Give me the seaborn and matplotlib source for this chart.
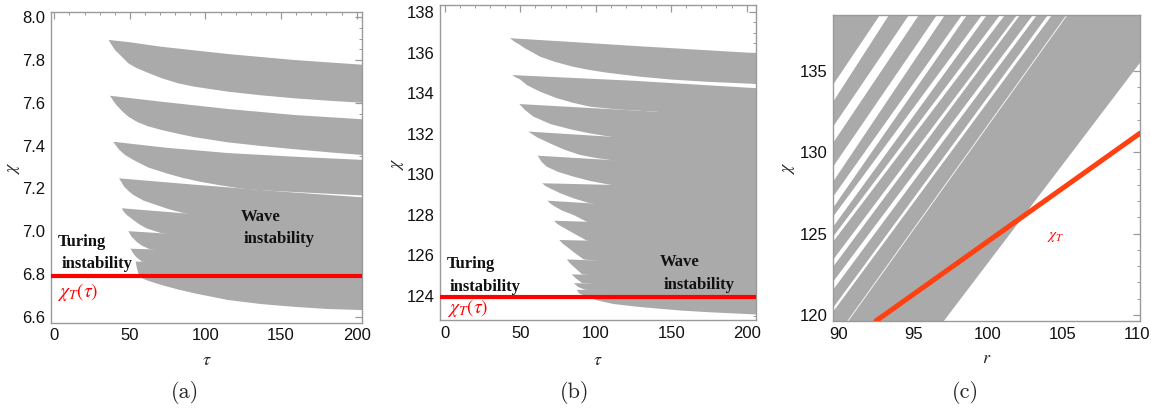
import matplotlib
matplotlib.use("Agg")
import matplotlib.pyplot as plt
from matplotlib.ticker import MultipleLocator, FormatStrFormatter
import seaborn as sns

# ── colours ────────────────────────────────────────────────────────────────
GRAY = "#aaaaaa"
FRAME = "#9a9a9a"
RED = "#ff0000"
RED_C = "#ff4010"

# ── panel (a): tongues, (tau, chi) points of top and bottom edge ───────────
A_TOP = [
    [(35.9, 7.894), (49, 7.884), (71, 7.862), (93, 7.845), (115, 7.828), (159, 7.800), (204, 7.778)],
    [(36.8, 7.633), (71, 7.605), (115, 7.571), (159, 7.543), (204, 7.523)],
    [(39.0, 7.418), (74, 7.390), (115, 7.365), (159, 7.348), (204, 7.333)],
    [(42.8, 7.247), (89.7, 7.219), (127, 7.198), (150, 7.185), (204, 7.158)],
    [(44.6, 7.107), (86.4, 7.083), (204, 7.020)],
    [(49.0, 7.000), (71, 6.990), (204, 6.930)],
    [(50.4, 6.918), (63.3, 6.915), (204, 6.880)],
    [(53.8, 6.858), (58, 6.857), (204, 6.820)],
]
A_BOT = [
    [(35.9, 7.894), (38, 7.870), (40.1, 7.847), (44.6, 7.816), (48.9, 7.785), (54, 7.764), (60, 7.746),
     (71, 7.715), (82, 7.691), (93, 7.675), (115, 7.652), (137, 7.635), (159, 7.621), (181, 7.610), (204, 7.600)],
    [(36.8, 7.633), (39, 7.610), (41, 7.590), (45, 7.560), (49, 7.535), (55, 7.510), (62, 7.490),
     (71, 7.473), (82, 7.455), (93, 7.439), (115, 7.415), (137, 7.398), (159, 7.383), (181, 7.369), (204, 7.356)],
    [(39.0, 7.418), (41, 7.398), (43, 7.380), (47, 7.355), (52.3, 7.333), (62, 7.298), (74.3, 7.270),
     (85, 7.249), (96.4, 7.231), (110, 7.214), (127, 7.196), (150, 7.186), (204, 7.167)],
    [(42.8, 7.247), (44.5, 7.228), (46, 7.210), (49, 7.188), (52.3, 7.169), (59, 7.143), (67.7, 7.122),
     (76, 7.102), (86.4, 7.083), (204, 6.950)],
    [(44.6, 7.107), (46, 7.090), (48, 7.075), (52.3, 7.052), (56, 7.033), (61, 7.013), (71, 6.990), (204, 6.850)],
    [(49.0, 7.000), (51, 6.975), (54.5, 6.950), (58, 6.932), (63.3, 6.915), (204, 6.800)],
    [(50.4, 6.918), (52, 6.898), (54, 6.880), (58, 6.857), (204, 6.750)],
    [(53.8, 6.858), (54.6, 6.828), (55.6, 6.803), (56.7, 6.784), (62, 6.768), (71, 6.748), (82, 6.727),
     (93, 6.709), (115, 6.678), (137, 6.659), (159, 6.646), (181, 6.636), (204, 6.631)],
]
A_CHI_T = 6.79

# ── panel (b) ──────────────────────────────────────────────────────────────
B_TOP = [
    [(43.1, 136.72), (85, 136.53), (125, 136.34), (207, 135.98)],
    [(44.6, 134.90), (125, 134.62), (207, 134.25)],
    [(49.3, 133.47), (109.4, 133.22), (140.4, 133.09), (207, 132.80)],
    [(55.3, 132.11), (109.4, 131.86), (207, 131.50)],
    [(61.5, 130.92), (109.4, 130.71), (207, 130.30)],
    [(64.5, 129.56), (110, 129.48), (207, 129.20)],
    [(68.0, 128.70), (96, 128.57), (207, 128.20)],
    [(72.3, 127.71), (94, 127.66), (207, 127.30)],
    [(75.8, 126.76), (94, 126.73), (207, 126.40)],
    [(80.9, 125.80), (92, 125.77), (207, 125.50)],
    [(84.0, 125.06), (91, 125.05), (207, 124.80)],
    [(85.5, 124.63), (91, 124.62), (207, 124.40)],
    [(87.3, 124.30), (207, 124.20)],
]
B_BOT = [
    [(43.1, 136.72), (46, 136.55), (49.7, 136.39), (53, 136.22), (58, 136.02), (63, 135.81), (73, 135.55),
     (85.1, 135.31), (96, 135.15), (107.2, 135.02), (129.3, 134.82), (150, 134.68), (173.5, 134.57), (207, 134.46)],
    [(44.6, 134.90), (47, 134.78), (49.7, 134.69), (54.2, 134.41), (63, 134.08), (74.1, 133.76), (85, 133.53),
     (96.2, 133.34), (115, 133.20), (140.4, 133.09), (207, 132.30)],
    [(49.3, 133.47), (53, 133.18), (58.6, 132.85), (70, 132.48), (85.1, 132.19), (97, 132.01), (109.4, 131.86),
     (207, 130.80)],
    [(55.3, 132.11), (61, 131.83), (69.6, 131.53), (79, 131.22), (89.5, 130.96), (99, 130.82), (109.4, 130.71),
     (207, 129.50)],
    [(61.5, 130.92), (64, 130.62), (67.4, 130.38), (75, 130.12), (85.1, 129.89), (97, 129.66), (110, 129.48),
     (207, 128.50)],
    [(64.5, 129.56), (66.5, 129.43), (69.6, 129.31), (77, 129.05), (85.1, 128.82), (96, 128.57), (207, 127.50)],
    [(68.0, 128.70), (70, 128.55), (72.9, 128.41), (78, 128.20), (85.1, 128.00), (94, 127.66), (207, 126.50)],
    [(72.3, 127.71), (74.5, 127.55), (77.4, 127.42), (85, 127.10), (94, 126.73), (207, 125.50)],
    [(75.8, 126.76), (78, 126.58), (80.7, 126.43), (86, 126.12), (92, 125.80), (207, 124.80)],
    [(80.9, 125.80), (82.3, 125.66), (84, 125.53), (91, 125.06), (207, 124.30)],
    [(84.0, 125.06), (87, 124.85), (91, 124.63), (207, 124.00)],
    [(85.5, 124.63), (88, 124.45), (93, 124.30), (207, 123.80)],
    [(87.3, 124.30), (89, 124.12), (94, 123.96), (102, 123.76), (111.6, 123.60), (129.3, 123.45),
     (155.8, 123.28), (173.5, 123.20), (207, 123.08)],
]
B_CHI_T = 123.95

# ── panel (c): straight stripes in the (r, chi) plane ──────────────────────
C_EDGE_R = [96.98, 110.2]          # right edge of the gray band
C_EDGE_CHI = [119.63, 135.57]
C_GAP_CHI_HI = [136.10, 134.14, 131.56, 129.10, 127.26, 126.03, 124.80, 123.38, 122.03, 120.43]
C_GAP_CHI_LO = [140.00, 133.09, 130.57, 128.18, 126.58, 125.41, 124.49, 122.95, 121.54, 120.19]
C_GAP_R_LO = [88.00, 92.75, 94.70, 96.58, 98.26, 99.60, 100.81, 101.95, 103.02, 104.03]
C_GAP_R_HI = [91.28, 93.36, 95.37, 97.11, 98.59, 99.93, 101.14, 102.15, 103.29, 104.30]
C_THIN_R = [90.6, 105.3]
C_THIN_CHI = [119.63, 138.44]
C_RED_R = [92.48, 110.2]
C_RED_CHI = [119.63, 131.17]

XLIM = [(-2.2, 203.3), (-3.3, 206.2), (89.6, 110.2)]
YLIM = [(6.572, 8.026), (122.81, 138.36), (119.63, 138.44)]

sns.set_theme(style="white")
plt.rcParams.update({
    "font.family": ["Liberation Sans", "DejaVu Sans"],
    "mathtext.fontset": "stix",
    "axes.edgecolor": FRAME,
    "axes.linewidth": 1.0,
})

fig = plt.figure(figsize=(11.51, 4.09), dpi=100)
axes = [
    fig.add_axes([0.0443, 0.211, 0.2699, 0.7604]),
    fig.add_axes([0.3823, 0.2176, 0.2745, 0.7702]),
    fig.add_axes([0.7237, 0.2152, 0.2667, 0.7482]),
]


def draw_tongues(ax, tops, bots):
    for top, bot in zip(tops, bots):
        pts = top + bot[::-1]
        ax.fill([p[0] for p in pts], [p[1] for p in pts], color=GRAY, lw=0, zorder=1)


def style_axes(ax, xmaj, xmin, ymaj, ymin, xlim, ylim):
    ax.set_xlim(*xlim)
    ax.set_ylim(*ylim)
    ax.xaxis.set_major_locator(MultipleLocator(xmaj))
    ax.xaxis.set_minor_locator(MultipleLocator(xmin))
    ax.yaxis.set_major_locator(MultipleLocator(ymaj))
    ax.yaxis.set_minor_locator(MultipleLocator(ymin))
    ax.tick_params(which="both", direction="in", top=True, right=True, color=FRAME,
                   labelsize=12, labelcolor="#111111", pad=4)
    ax.tick_params(which="major", length=5, width=0.9)
    ax.tick_params(which="minor", length=2.5, width=0.7)
    for s in ax.spines.values():
        s.set_visible(True)
        s.set_color(FRAME)


serif_bold = dict(family="Liberation Serif", fontweight="bold", fontsize=12, color="#111111")

# (a)
ax = axes[0]
draw_tongues(ax, A_TOP, A_BOT)
ax.axhline(A_CHI_T, color=RED, lw=3, zorder=3)
style_axes(ax, 50, 10, 0.2, 0.05, XLIM[0], YLIM[0])
ax.yaxis.set_major_formatter(FormatStrFormatter("%.1f"))
ax.text(2.5, 6.95, "Turing", va="center", ha="left", **serif_bold)
ax.text(4.9, 6.845, "instability", va="center", ha="left", zorder=4,
        bbox=dict(facecolor="white", edgecolor="none", pad=0.5), **serif_bold)
ax.text(123.3, 7.067, "Wave", va="center", ha="left", **serif_bold)
ax.text(125.5, 6.963, "instability", va="center", ha="left", **serif_bold)
ax.text(1.6, 6.716, r"$\chi_{T}(\tau)$", color=RED, fontsize=14, va="center", ha="left")

# (b)
ax = axes[1]
draw_tongues(ax, B_TOP, B_BOT)
ax.axhline(B_CHI_T, color=RED, lw=3, zorder=3)
style_axes(ax, 50, 10, 2, 0.5, XLIM[1], YLIM[1])
ax.text(1.1, 125.58, "Turing", va="center", ha="left", **serif_bold)
ax.text(2.9, 124.46, "instability", va="center", ha="left", **serif_bold)
ax.text(142.1, 125.65, "Wave", va="center", ha="left", **serif_bold)
ax.text(144.8, 124.54, "instability", va="center", ha="left", **serif_bold)
ax.text(1.1, 123.39, r"$\chi_{T}(\tau)$", color=RED, fontsize=14, va="center", ha="left")

# (c)
ax = axes[2]
ylo, yhi = YLIM[2]
slope = (C_EDGE_CHI[1] - C_EDGE_CHI[0]) / (C_EDGE_R[1] - C_EDGE_R[0])
edge_hi = C_EDGE_R[0] + (yhi - C_EDGE_CHI[0]) / slope
ax.fill_betweenx([ylo, yhi], XLIM[2][0], [C_EDGE_R[0], edge_hi], color=GRAY, lw=0, zorder=1)
r0 = XLIM[2][0]
for chi_hi, chi_lo, r_lo, r_hi in zip(C_GAP_CHI_HI, C_GAP_CHI_LO, C_GAP_R_LO, C_GAP_R_HI):
    ax.fill([r0, r_lo, r_hi, r0], [chi_hi, yhi, yhi, chi_lo], color="white", lw=0, zorder=2)
ax.plot(C_THIN_R, C_THIN_CHI, color="white", lw=0.6, zorder=2)
sns.lineplot(x=C_RED_R, y=C_RED_CHI, ax=ax, color=RED_C, lw=3.6, zorder=3)
style_axes(ax, 5, 1, 5, 1, XLIM[2], YLIM[2])
ax.text(103.96, 124.8, r"$\chi_{T}$", color=RED, fontsize=11, va="center", ha="left")

# axis labels
lab_pos = [((-0.093, 0.5), (0.501, -0.094)),
           ((-0.108, 0.497), (0.501, -0.100)),
           ((-0.117, 0.5), (0.501, -0.095))]
xlabels = [r"$\tau$", r"$\tau$", r"$r$"]
for ax, (yl, xl), xlab in zip(axes, lab_pos, xlabels):
    ax.set_ylabel(r"$\chi$", fontsize=13)
    ax.set_xlabel(xlab, fontsize=13)
    ax.yaxis.set_label_coords(*yl)
    ax.xaxis.set_label_coords(*xl)

for x, lab in zip([0.1607, 0.4996, 0.8384], ["(a)", "(b)", "(c)"]):
    fig.text(x, 0.040, lab, fontfamily="cmr10", fontsize=16, ha="center", va="center")

fig.savefig("out.png", dpi=100)
